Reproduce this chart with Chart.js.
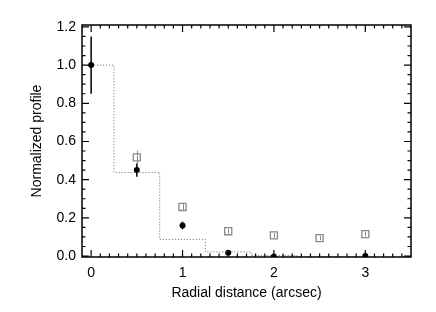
<!DOCTYPE html>
<html>
<head>
<meta charset="utf-8">
<script src="https://cdn.jsdelivr.net/npm/chart.js@4"></script>
<style>
    html, body { margin: 0; padding: 0; background: #fff; }
    #wrap { width: 436px; height: 312px; }
</style>
</head>
<body>
<div id="wrap"><canvas id="profileChart" width="436" height="312"></canvas></div>
<script>
// observed profile (filled black points)
const obsX = [0, 0.5, 1, 1.5, 2, 3];
const obsY = [1.0, 0.45, 0.16, 0.017, -0.003, 0.0];
const obsErr = [0.15, 0.035, 0.02, 0.01, 0.005, 0.005];

// comparison profile (open grey squares)
const cmpX = [0.5, 1, 1.5, 2, 2.5, 3];
const cmpY = [0.517, 0.257, 0.13, 0.108, 0.094, 0.115];
const cmpErr = [0.035, 0.015, 0.012, 0.012, 0.012, 0.012];

// model step profile (dotted)
const stepX = [0, 0.25, 0.75, 1.25, 1.75, 2.25, 3.0];
const stepY = [1.0, 0.437, 0.087, 0.022, 0.003, -0.004, -0.004];

const xTicks = [0, 1, 2, 3];
const yTicks = [0, 0.2, 0.4, 0.6, 0.8, 1.0, 1.2];

const FONT = "'Liberation Sans', Arial, Helvetica, sans-serif";

function pts(xs, ys) {
    return xs.map((x, i) => ({ x: x, y: ys[i] }));
}

// draws error bars, the frame and inward ticks on all four sides
const framePlugin = {
    id: 'frame',
    afterDatasetsDraw(chart) {
        const ctx = chart.ctx;
        const xs = chart.scales.x;
        const ys = chart.scales.y;
        const a = chart.chartArea;

        ctx.save();
        ctx.beginPath();
        ctx.rect(a.left, a.top, a.right - a.left, a.bottom - a.top);
        ctx.clip();
        ctx.lineWidth = 1.5;
        ctx.strokeStyle = '#000';
        obsX.forEach((x, i) => {
            const px = xs.getPixelForValue(x);
            ctx.beginPath();
            ctx.moveTo(px, ys.getPixelForValue(obsY[i] - obsErr[i]));
            ctx.lineTo(px, ys.getPixelForValue(obsY[i] + obsErr[i]));
            ctx.stroke();
        });
        ctx.lineWidth = 1;
        ctx.strokeStyle = '#888';
        cmpX.forEach((x, i) => {
            const px = Math.round(xs.getPixelForValue(x)) + 0.5;
            ctx.beginPath();
            ctx.moveTo(px, ys.getPixelForValue(cmpY[i] - cmpErr[i]));
            ctx.lineTo(px, ys.getPixelForValue(cmpY[i] + cmpErr[i]));
            ctx.stroke();
        });
        ctx.restore();

        ctx.save();
        ctx.strokeStyle = '#000';
        ctx.lineWidth = 1.5;
        ctx.strokeRect(a.left, a.top, a.right - a.left, a.bottom - a.top);

        ctx.lineWidth = 1.2;
        ctx.beginPath();
        // x ticks, every 0.1, major every 1
        for (let k = -1; k <= 35; k++) {
            const v = k / 10;
            const px = xs.getPixelForValue(v);
            if (px < a.left + 1 || px > a.right - 1) continue;
            const len = (k % 10 === 0) ? 7 : 3.5;
            ctx.moveTo(px, a.bottom);
            ctx.lineTo(px, a.bottom - len);
            ctx.moveTo(px, a.top);
            ctx.lineTo(px, a.top + len);
        }
        // y ticks, every 0.05, major every 0.2
        for (let k = 0; k <= 24; k++) {
            const v = k * 0.05;
            const py = ys.getPixelForValue(v);
            if (py < a.top - 0.5 || py > a.bottom + 0.5) continue;
            const len = (k % 4 === 0) ? 7 : 3.5;
            ctx.moveTo(a.left, py);
            ctx.lineTo(a.left + len, py);
            ctx.moveTo(a.right, py);
            ctx.lineTo(a.right - len, py);
        }
        ctx.stroke();
        ctx.restore();
    }
};

const ctx = document.getElementById('profileChart').getContext('2d');

new Chart(ctx, {
    type: 'scatter',
    data: {
        datasets: [
            {
                label: 'model',
                type: 'line',
                data: pts(stepX, stepY),
                stepped: 'before',
                borderColor: '#666',
                borderWidth: 1,
                borderDash: [1, 2],
                pointRadius: 0,
                fill: false,
                clip: 0
            },
            {
                label: 'comparison',
                data: pts(cmpX, cmpY),
                pointStyle: 'rect',
                pointRadius: 5,
                backgroundColor: 'rgba(255,255,255,0)',
                borderColor: '#888',
                borderWidth: 1.3,
                clip: 0
            },
            {
                label: 'observed',
                data: pts(obsX, obsY),
                pointStyle: 'circle',
                pointRadius: 3,
                backgroundColor: '#000',
                borderColor: '#000',
                borderWidth: 0,
                clip: 0
            }
        ]
    },
    options: {
        responsive: false,
        animation: false,
        devicePixelRatio: 1,
        layout: {
            padding: { left: 0, right: 25, top: 25, bottom: 0 }
        },
        plugins: {
            legend: { display: false },
            tooltip: { enabled: false }
        },
        scales: {
            x: {
                type: 'linear',
                min: -0.1,
                max: 3.5,
                afterBuildTicks: (s) => { s.ticks = xTicks.map(v => ({ value: v })); },
                afterFit: (s) => { s.height = 55; },
                grid: { display: false, drawTicks: false },
                border: { display: false },
                ticks: {
                    padding: 8,
                    color: '#000',
                    font: { family: FONT, size: 14 },
                    callback: (v) => String(v)
                },
                title: {
                    display: true,
                    text: 'Radial distance (arcsec)',
                    color: '#000',
                    font: { family: FONT, size: 14 },
                    padding: { top: 0, bottom: 10 }
                }
            },
            y: {
                type: 'linear',
                min: -0.005,
                max: 1.21,
                afterBuildTicks: (s) => { s.ticks = yTicks.map(v => ({ value: v })); },
                afterFit: (s) => { s.width = 82; },
                grid: { display: false, drawTicks: false },
                border: { display: false },
                ticks: {
                    padding: 6,
                    color: '#000',
                    font: { family: FONT, size: 14 },
                    callback: (v) => Number(v).toFixed(1)
                },
                title: {
                    display: true,
                    text: 'Normalized profile',
                    color: '#000',
                    font: { family: FONT, size: 14 },
                    padding: { top: 29, bottom: 0 }
                }
            }
        }
    },
    plugins: [framePlugin]
});
</script>
</body>
</html>
